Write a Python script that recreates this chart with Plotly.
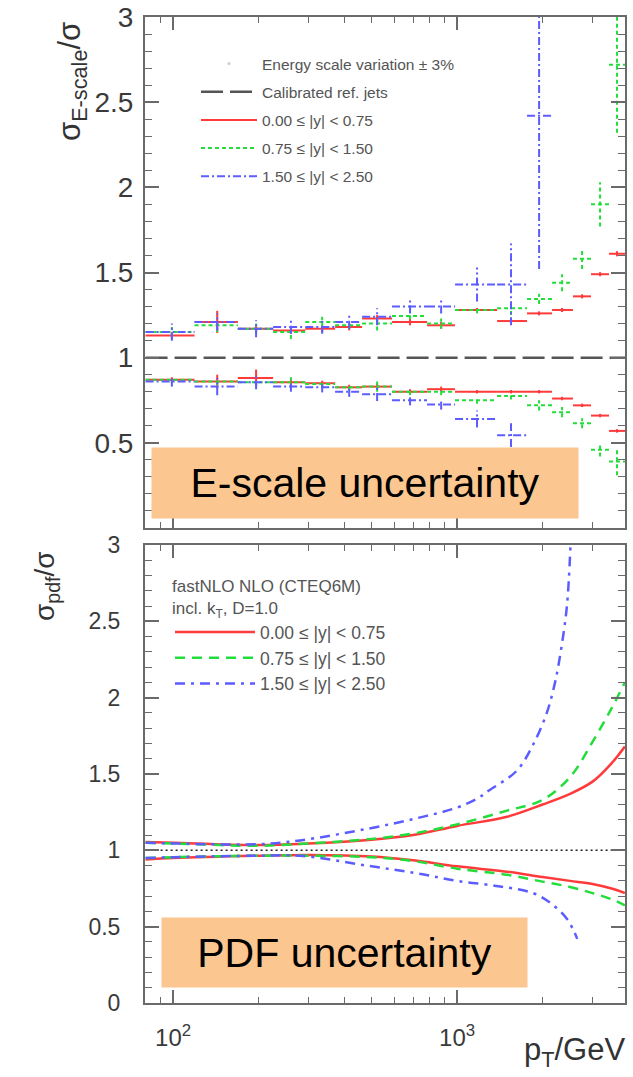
import plotly.graph_objects as go

# ---------------- data ----------------
# top panel: pT bins (GeV)
pt_edges = [80, 119, 169, 225, 292, 372, 463, 590, 784, 984, 1384, 1764, 2161, 2560, 2963, 3430, 3905]
pt_centers = [99, 143, 196, 260, 335, 417, 523, 683, 879, 1176, 1549, 1945, 2344, 2757, 3189, 3658]

red_up = [1.13, 1.21, 1.17, 1.16, 1.17, 1.18, 1.23, 1.21, 1.19, 1.28, 1.215, 1.26, 1.28, 1.36, 1.49, 1.61]
red_up_err = [0.02, 0.065, 0.02, 0.02, 0.02, 0.02, 0.02, 0.02, 0.02, 0.012, 0.012, 0.012, 0.012, 0.012, 0.012, 0.015]
green_up = [1.15, 1.19, 1.17, 1.15, 1.21, 1.19, 1.20, 1.245, 1.20, 1.28, 1.29, 1.345, 1.44, 1.58, 1.90, 2.72]
green_up_err = [0.03, 0.04, 0.03, 0.04, 0.03, 0.02, 0.04, 0.02, 0.03, 0.02, 0.04, 0.03, 0.05, 0.06, 0.13, 0.40]
blue_up = [1.15, 1.21, 1.17, 1.18, 1.18, 1.21, 1.24, 1.30, 1.30, 1.43, 1.43, 2.42]
blue_up_err = [0.05, 0.05, 0.05, 0.04, 0.04, 0.04, 0.05, 0.04, 0.04, 0.10, 0.24, 0.90]

red_lo = [0.87, 0.86, 0.88, 0.855, 0.85, 0.826, 0.83, 0.80, 0.815, 0.80, 0.80, 0.80, 0.76, 0.72, 0.66, 0.57]
red_lo_err = [0.015, 0.04, 0.05, 0.015, 0.015, 0.015, 0.015, 0.015, 0.015, 0.01, 0.01, 0.01, 0.01, 0.01, 0.01, 0.01]
green_lo = [0.87, 0.86, 0.855, 0.855, 0.845, 0.827, 0.83, 0.80, 0.80, 0.75, 0.775, 0.72, 0.68, 0.615, 0.46, 0.39]
green_lo_err = [0.02, 0.02, 0.02, 0.03, 0.02, 0.02, 0.03, 0.02, 0.02, 0.02, 0.02, 0.03, 0.03, 0.03, 0.04, 0.08]
blue_lo = [0.86, 0.83, 0.855, 0.83, 0.826, 0.80, 0.785, 0.75, 0.725, 0.64, 0.545]
blue_lo_err = [0.03, 0.05, 0.04, 0.03, 0.03, 0.03, 0.04, 0.03, 0.03, 0.05, 0.07]

ref_line_x = [80, 3905]
ref_line_y = [1, 1]

# bottom panel: PDF uncertainty curves
pdf_pt = [80, 100, 200, 300, 500, 700, 1000, 1500, 2000, 2500, 3000, 3500, 3900]
red_pdf_up = [1.055, 1.05, 1.035, 1.045, 1.07, 1.10, 1.16, 1.22, 1.30, 1.37, 1.45, 1.57, 1.68]
red_pdf_lo = [0.94, 0.95, 0.965, 0.97, 0.96, 0.935, 0.895, 0.86, 0.825, 0.80, 0.78, 0.75, 0.72]
green_pdf_up = [1.05, 1.045, 1.03, 1.045, 1.075, 1.11, 1.17, 1.26, 1.33, 1.48, 1.71, 1.93, 2.10]
green_pdf_lo = [0.95, 0.955, 0.965, 0.965, 0.955, 0.93, 0.88, 0.84, 0.795, 0.76, 0.72, 0.68, 0.64]
blue_pdf_pt_up = [80, 100, 200, 280, 480, 720, 1000, 1180, 1290, 1620, 1850, 2070, 2220, 2340, 2440, 2510]
blue_pdf_up = [1.05, 1.045, 1.04, 1.065, 1.14, 1.21, 1.28, 1.34, 1.39, 1.52, 1.69, 1.90, 2.11, 2.35, 2.61, 3.0]
blue_pdf_pt_lo = [80, 100, 200, 280, 480, 720, 1000, 1400, 1850, 2150, 2440, 2580, 2650]
blue_pdf_lo = [0.95, 0.955, 0.965, 0.965, 0.90, 0.85, 0.80, 0.765, 0.72, 0.65, 0.55, 0.47, 0.42]

x_major = [100, 1000]
x_major_text = ["10<sup>2</sup>", "10<sup>3</sup>"]
x_minor = [80, 90, 200, 300, 400, 500, 600, 700, 800, 900, 2000, 3000]
y_top_ticks = [0.5, 1, 1.5, 2, 2.5, 3]
y_top_text = ["0.5", "1", "1.5", "2", "2.5", "3"]
y_bot_ticks = [0, 0.5, 1, 1.5, 2, 2.5, 3]
y_bot_text = ["0", "0.5", "1", "1.5", "2", "2.5", "3"]

labels = ["0.00 \u2264 |y| < 0.75", "0.75 \u2264 |y| < 1.50", "1.50 \u2264 |y| < 2.50"]

# ---------------- layout helpers ----------------
W, H = 633, 1077
def px(p):
    return p / W
def py(p):
    return 1 - p / H

RED, GREEN, BLUE = "#ff3a3a", "#22dd3a", "#5c5cff"

def segments(vals, errs):
    xs, ys = [], []
    for i, (v, e) in enumerate(zip(vals, errs)):
        lo, hi, c = pt_edges[i], pt_edges[i + 1], pt_centers[i]
        xs += [lo, hi, None, c, c, None]
        ys += [v, v, None, v - e, v + e, None]
    return xs, ys

fig = go.Figure()

# ---- top panel ----
fig.add_trace(go.Scatter(x=[None], y=[None], mode="markers", name="Energy scale variation \u00b1 3%",
                         marker=dict(size=3, color="#cccccc"), xaxis="x", yaxis="y",
                         legend="legend", legendgroup="g0"))
fig.add_trace(go.Scatter(x=ref_line_x, y=ref_line_y, mode="lines", name="Calibrated ref. jets",
                         line=dict(color="#555555", width=2.5, dash="22px,7px"), xaxis="x", yaxis="y",
                         legend="legend", legendgroup="g1"))

top_series = [
    (red_up, red_up_err, red_lo, red_lo_err, RED, "solid", labels[0], "g2"),
    (green_up, green_up_err, green_lo, green_lo_err, GREEN, "4px,3px", labels[1], "g3"),
    (blue_up, blue_up_err, blue_lo, blue_lo_err, BLUE, "8px,3px,2px,3px", labels[2], "g4"),
]
for up, upe, lo, loe, col, dash, name, grp in top_series:
    xs, ys = segments(up, upe)
    fig.add_trace(go.Scatter(x=xs, y=ys, mode="lines", name=name, line=dict(color=col, width=2, dash=dash),
                             xaxis="x", yaxis="y", legend="legend", legendgroup=grp, connectgaps=False))
    xs, ys = segments(lo, loe)
    fig.add_trace(go.Scatter(x=xs, y=ys, mode="lines", name=name, line=dict(color=col, width=2, dash=dash),
                             xaxis="x", yaxis="y", legend="legend", legendgroup=grp, showlegend=False,
                             connectgaps=False))

# ---- bottom panel ----
fig.add_trace(go.Scatter(x=ref_line_x, y=ref_line_y, mode="lines", showlegend=False,
                         line=dict(color="#222222", width=1.5, dash="2px,3px"), xaxis="x2", yaxis="y2"))
bot_series = [
    (pdf_pt, red_pdf_up, pdf_pt, red_pdf_lo, RED, "solid", labels[0]),
    (pdf_pt, green_pdf_up, pdf_pt, green_pdf_lo, GREEN, "10px,7px", labels[1]),
    (blue_pdf_pt_up, blue_pdf_up, blue_pdf_pt_lo, blue_pdf_lo, BLUE, "10px,6px,3px,6px", labels[2]),
]
for xu, yu, xl, yl, col, dash, name in bot_series:
    fig.add_trace(go.Scatter(x=xu, y=yu, mode="lines", name=name, line=dict(color=col, width=2.5, dash=dash, shape="spline"),
                             xaxis="x2", yaxis="y2", legend="legend2"))
    fig.add_trace(go.Scatter(x=xl, y=yl, mode="lines", name=name, showlegend=False,
                             line=dict(color=col, width=2.5, dash=dash, shape="spline"),
                             xaxis="x2", yaxis="y2", legend="legend2"))

AXC = "#6a6a6a"
xr = [1.901, 3.5915]
common_x = dict(type="log", range=xr, domain=[px(145), px(625)], showline=True, linecolor=AXC, linewidth=2,
                mirror="ticks", ticks="inside", ticklen=13, tickwidth=1.5, tickcolor=AXC,
                tickvals=x_major, showgrid=False, zeroline=False, automargin=False,
                minor=dict(tickvals=x_minor, ticks="inside", ticklen=6, tickcolor=AXC, tickwidth=1.2, showgrid=False))
common_y = dict(range=[0, 3], showline=True, linecolor=AXC, linewidth=2, mirror="ticks", ticks="inside",
                ticklen=14, tickwidth=1.5, tickcolor=AXC, showgrid=False, zeroline=False, automargin=False,
                minor=dict(dtick=0.1, ticks="inside", ticklen=7, tickcolor=AXC, tickwidth=1.2, showgrid=False))

fig.update_layout(
    width=W, height=H, margin=dict(l=0, r=0, t=0, b=0, autoexpand=False),
    paper_bgcolor="white", plot_bgcolor="white",
    font=dict(family="Liberation Sans, Arial, sans-serif", color="#333333"),
    xaxis=dict(common_x, anchor="y", showticklabels=False),
    yaxis=dict(common_y, anchor="x", domain=[py(528), py(17)], tickvals=y_top_ticks, ticktext=y_top_text,
               tickfont=dict(size=28, color="#3a3a3a"), ticklabelstandoff=4),
    xaxis2=dict(common_x, anchor="y2", ticktext=x_major_text, tickfont=dict(size=24, color="#3a3a3a"),
                ticklabelstandoff=12),
    yaxis2=dict(common_y, anchor="x2", domain=[py(1003), py(545)], tickvals=y_bot_ticks, ticktext=y_bot_text,
                tickfont=dict(size=23, color="#3a3a3a"), ticklabelstandoff=18),
    legend=dict(x=px(196), y=py(47), xanchor="left", yanchor="top", bgcolor="rgba(0,0,0,0)",
                font=dict(size=15.5, color="#555555"), tracegroupgap=5, itemwidth=56),
    legend2=dict(x=px(170), y=py(570), xanchor="left", yanchor="top", bgcolor="rgba(0,0,0,0)",
                 font=dict(size=17.5, color="#555555"), itemwidth=80,
                 title=dict(text="fastNLO NLO (CTEQ6M)<br>incl. k<sub>T</sub>, D=1.0", side="top",
                            font=dict(size=17, color="#555555"))),
    showlegend=True,
)

fig.add_annotation(xref="paper", yref="paper", x=px(365), y=py(483), text="E-scale uncertainty",
                   showarrow=False, bgcolor="#fbc690", width=426, height=70, borderpad=0,
                   font=dict(size=41, color="black"), xanchor="center", yanchor="middle")
fig.add_annotation(xref="paper", yref="paper", x=px(344.5), y=py(952.5), text="PDF uncertainty",
                   showarrow=False, bgcolor="#fbc690", width=365, height=69, borderpad=0,
                   font=dict(size=41, color="black"), xanchor="center", yanchor="middle")
fig.add_annotation(xref="paper", yref="paper", x=px(72), y=py(82), text="\u03c3<sub>E-scale</sub>/\u03c3",
                   textangle=-90, showarrow=False, font=dict(size=31, color="#333333"),
                   xanchor="center", yanchor="middle")
fig.add_annotation(xref="paper", yref="paper", x=px(46), y=py(586), text="\u03c3<sub>pdf</sub>/\u03c3",
                   textangle=-90, showarrow=False, font=dict(size=28, color="#333333"),
                   xanchor="center", yanchor="middle")
fig.add_annotation(xref="paper", yref="paper", x=px(627), y=py(1052), text="p<sub>T</sub>/GeV",
                   showarrow=False, font=dict(size=31, color="#333333"), xanchor="right", yanchor="middle")

fig.write_html("out.html")
